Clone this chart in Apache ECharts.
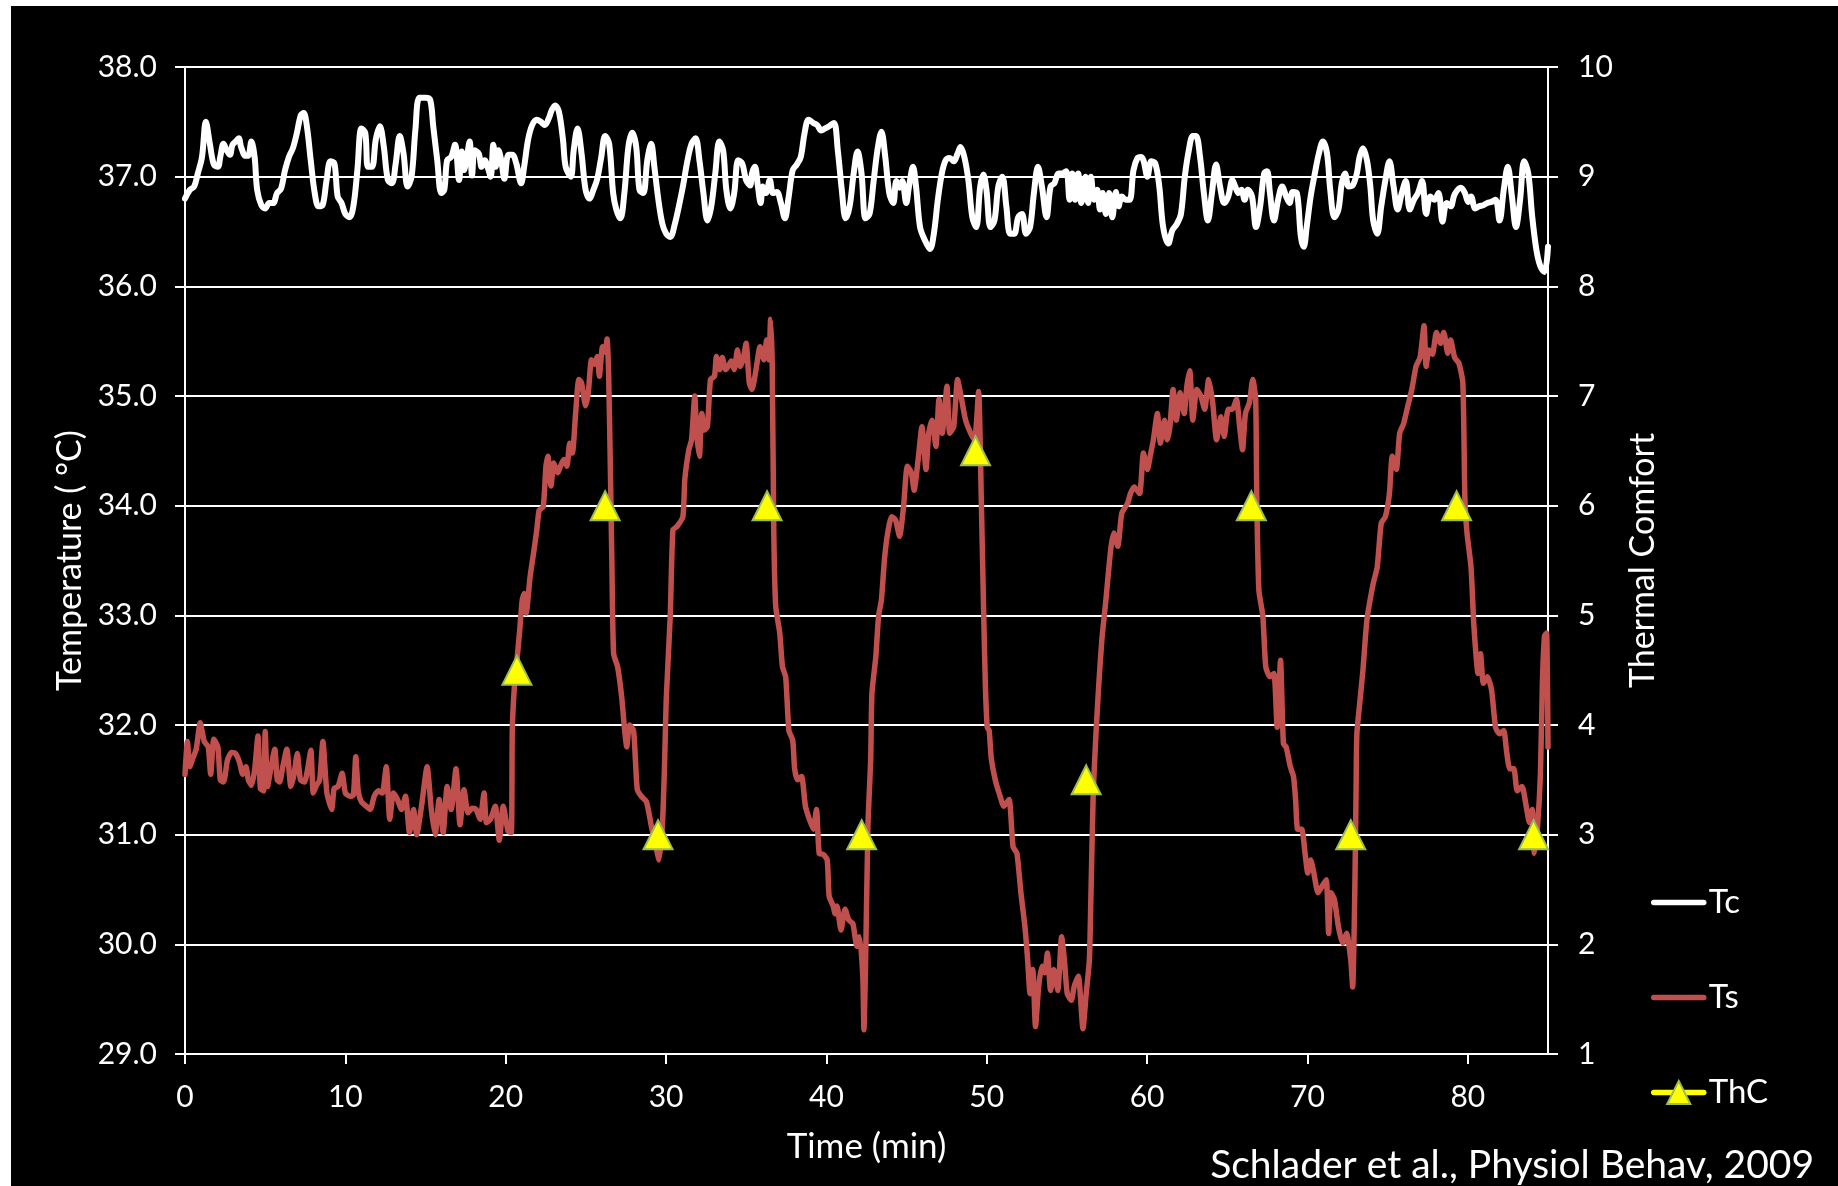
<!DOCTYPE html>
<html>
<head>
<meta charset="utf-8">
<script src="https://cdn.jsdelivr.net/npm/echarts@6/dist/echarts.min.js"></script>
<style>
html,body{margin:0;padding:0;background:#fff;width:1838px;height:1186px;overflow:hidden;}
#chart{position:absolute;left:11px;top:6px;width:1827px;height:1180px;}
</style>
</head>
<body>
<div id="chart"></div>
<script>
// ---- Data ----
const xTickLabels = [0, 10, 20, 30, 40, 50, 60, 70, 80];

// Core temperature (Tc)
const tcTime = [0,0.3,0.57,0.8,1.06,1.3,1.55,1.8,2.05,2.2,2.4,2.6,2.8,2.96,3.16,3.35,3.5,3.77,3.94,4.14,4.34,4.5,4.76,5.0,5.25,5.5,5.74,5.99,6.24,6.48,6.73,6.98,7.22,7.4,7.6,7.84,8.09,8.33,8.58,8.83,9.07,9.32,9.52,9.76,10.0,10.26,10.5,10.75,11.0,11.24,11.41,11.66,11.9,12.15,12.4,12.65,12.9,13.14,13.39,13.63,13.88,14.13,14.37,14.62,15.0,15.29,15.48,15.73,15.98,16.17,16.35,16.6,16.84,17.09,17.26,17.4,17.58,17.75,17.9,18.07,18.32,18.5,18.69,18.89,19.06,19.23,19.38,19.55,19.72,19.92,20.17,20.41,20.66,20.96,21.15,21.4,21.65,21.94,22.19,22.44,22.68,22.88,23.08,23.32,23.57,23.74,24.06,24.24,24.48,24.73,24.98,25.22,25.47,25.71,25.96,26.2,26.45,26.7,26.9,27.15,27.4,27.65,27.89,28.14,28.34,28.58,28.83,29.07,29.27,29.52,29.77,30.01,30.26,30.55,30.8,31.05,31.34,31.59,31.84,32.08,32.33,32.58,32.82,33.07,33.32,33.56,33.76,34.01,34.25,34.5,34.75,34.99,35.24,35.36,35.54,35.73,35.9,36.03,36.23,36.47,36.67,36.91,37.16,37.41,37.65,37.9,38.15,38.4,38.64,38.89,39.18,39.43,39.68,39.92,40.17,40.47,40.71,40.96,41.2,41.45,41.7,41.94,42.19,42.44,42.69,42.93,43.18,43.43,43.67,43.92,44.17,44.36,44.56,44.73,44.98,45.15,45.4,45.59,45.84,46.14,46.46,46.7,46.95,47.2,47.44,47.69,47.94,48.18,48.36,48.6,48.85,49.1,49.34,49.59,49.79,49.98,50.23,50.48,50.72,50.97,51.22,51.46,51.71,51.96,52.2,52.45,52.7,52.94,53.19,53.44,53.73,53.98,54.22,54.47,54.71,54.96,55.16,55.33,55.51,55.7,55.9,56.15,56.32,56.5,56.69,56.89,57.06,57.23,57.43,57.63,57.83,58.05,58.22,58.42,58.66,58.91,59.15,59.4,59.6,59.77,60.02,60.26,60.51,60.76,61.0,61.32,61.57,61.86,62.11,62.35,62.6,62.85,63.05,63.3,63.54,63.79,64.04,64.3,64.55,64.81,65.06,65.32,65.52,65.7,65.88,66.08,66.28,66.54,66.79,67.05,67.3,67.48,67.66,67.91,68.17,68.42,68.67,68.88,69.08,69.34,69.59,69.77,69.95,70.2,70.46,70.71,70.96,71.22,71.42,71.68,71.93,72.14,72.34,72.57,72.82,73.08,73.25,73.46,73.71,73.92,74.1,74.35,74.6,74.86,75.11,75.37,75.62,75.88,76.13,76.38,76.64,76.89,77.15,77.4,77.66,77.91,78.17,78.42,78.68,78.93,79.18,79.57,79.82,80.02,80.2,80.46,80.71,80.97,81.22,81.47,81.73,81.98,82.24,82.49,82.75,83.0,83.26,83.51,83.77,84.02,84.28,84.53,84.78,85.0];
const tcTemp = [36.80,36.88,36.91,37.03,37.18,37.50,37.30,37.11,37.09,37.18,37.30,37.24,37.20,37.29,37.32,37.35,37.27,37.19,37.19,37.32,37.18,36.88,36.74,36.71,36.76,36.76,36.85,36.89,37.06,37.18,37.26,37.40,37.56,37.58,37.46,37.15,36.85,36.73,36.74,36.97,37.14,37.12,36.82,36.76,36.66,36.63,36.73,37.06,37.44,37.40,37.09,37.09,37.34,37.46,37.27,36.97,36.94,37.12,37.37,37.21,36.91,37.00,37.43,37.72,37.72,37.70,37.46,37.15,36.85,36.88,37.15,37.18,37.29,36.97,37.23,37.06,37.18,37.32,37.01,37.24,37.21,37.09,37.15,37.08,37.00,37.29,37.09,37.24,37.15,36.98,37.20,37.20,37.12,36.94,37.09,37.34,37.47,37.52,37.50,37.47,37.53,37.61,37.65,37.59,37.34,37.09,37.00,37.24,37.44,37.21,36.88,36.80,36.88,36.98,37.18,37.37,37.30,36.85,36.70,36.62,36.85,37.27,37.40,37.27,36.88,36.85,37.15,37.30,37.09,36.79,36.57,36.48,36.45,36.57,36.73,36.91,37.15,37.30,37.35,37.15,36.85,36.60,36.73,37.03,37.32,37.24,36.88,36.71,36.85,37.15,37.12,36.97,36.92,37.03,37.09,36.91,36.76,36.91,36.85,36.97,36.85,36.86,36.76,36.62,36.82,37.06,37.11,37.18,37.40,37.52,37.49,37.47,37.42,37.44,37.46,37.49,37.24,36.88,36.62,36.73,37.03,37.23,37.03,36.62,36.66,36.94,37.24,37.41,37.18,36.85,36.76,36.96,36.90,36.96,36.76,36.91,37.09,36.91,36.54,36.42,36.34,36.48,36.79,37.03,37.15,37.17,37.14,37.21,37.27,37.18,36.97,36.63,36.54,36.91,37.02,36.88,36.54,36.60,36.91,37.00,36.73,36.48,36.48,36.63,36.66,36.48,36.54,36.85,37.09,36.91,36.63,36.91,36.94,37.03,37.03,37.05,36.79,37.03,36.79,37.03,36.76,37.00,36.76,37.00,36.79,36.88,36.70,36.85,36.66,36.85,36.63,36.86,36.73,36.82,36.79,36.79,37.06,37.17,37.18,37.15,37.00,37.14,37.12,36.91,36.54,36.39,36.51,36.57,36.66,37.00,37.24,37.37,37.37,37.18,36.85,36.60,36.85,37.11,36.91,36.76,36.82,36.97,36.90,36.85,36.88,36.79,36.88,36.82,36.54,36.73,37.03,37.05,36.85,36.60,36.79,36.91,36.82,36.76,36.86,36.85,36.45,36.36,36.54,36.82,37.03,37.21,37.32,37.21,36.88,36.63,36.70,36.94,37.03,36.91,36.92,37.03,37.18,37.26,37.15,36.91,36.60,36.48,36.73,36.97,37.14,36.91,36.70,36.85,36.96,36.70,36.79,36.85,36.96,36.66,36.82,36.79,36.85,36.59,36.76,36.73,36.84,36.90,36.85,36.77,36.82,36.71,36.73,36.74,36.76,36.77,36.79,36.60,36.88,37.09,36.82,36.54,36.79,37.14,37.03,36.63,36.33,36.18,36.13,36.36];

// Skin temperature (Ts)
const tsTime = [0,0.15,0.3,0.5,0.7,0.95,1.2,1.45,1.6,1.8,2.05,2.2,2.4,2.65,2.9,3.15,3.4,3.6,3.8,3.95,4.15,4.35,4.55,4.7,4.9,5.0,5.15,5.35,5.6,5.75,5.9,6.1,6.35,6.6,6.8,7.0,7.2,7.45,7.65,7.85,8.0,8.2,8.4,8.6,8.85,9.15,9.3,9.55,9.8,10.0,10.3,10.5,10.65,10.8,11.0,11.3,11.55,11.8,12.05,12.3,12.55,12.77,13.0,13.25,13.5,13.75,14.0,14.25,14.45,14.75,15.1,15.36,15.6,15.85,16.1,16.35,16.6,16.9,17.15,17.4,17.65,17.9,18.15,18.4,18.65,18.8,19.05,19.35,19.6,19.85,20.15,20.35,20.41,20.54,20.66,20.86,21.03,21.15,21.28,21.52,21.77,21.94,22.09,22.34,22.51,22.63,22.83,23.0,23.25,23.42,23.62,23.82,23.99,24.16,24.36,24.56,24.73,24.98,25.15,25.35,25.54,25.71,25.84,26.04,26.2,26.32,26.42,26.52,26.62,26.73,26.98,27.23,27.4,27.55,27.72,27.97,28.09,28.21,28.46,28.78,29.08,29.32,29.57,29.77,29.9,30.01,30.26,30.43,30.68,31.05,31.17,31.42,31.59,31.79,31.91,32.08,32.23,32.4,32.58,32.77,33.02,33.14,33.34,33.51,33.71,33.88,34.06,34.25,34.45,34.62,34.8,34.99,35.19,35.36,35.61,35.86,36.1,36.27,36.42,36.52,36.62,36.72,36.84,37.09,37.26,37.46,37.66,37.9,38.02,38.2,38.45,38.69,38.94,39.18,39.38,39.55,39.8,40.05,40.17,40.42,40.54,40.66,40.91,41.16,41.4,41.65,41.9,42.07,42.27,42.34,42.44,42.59,42.76,42.84,43.08,43.25,43.43,43.62,43.82,44.07,44.31,44.56,44.81,45.05,45.3,45.47,45.72,45.96,46.21,46.38,46.58,46.83,47.02,47.22,47.52,47.69,47.94,48.18,48.43,48.68,49.0,49.24,49.49,49.66,49.79,49.91,50.03,50.15,50.28,50.53,50.77,51.07,51.39,51.64,51.88,52.13,52.38,52.55,52.7,52.87,53.04,53.24,53.44,53.61,53.78,53.98,54.18,54.43,54.67,54.84,55.02,55.27,55.46,55.71,56.0,56.2,56.4,56.5,56.64,56.81,56.99,57.18,57.43,57.73,57.92,58.17,58.42,58.78,58.96,59.2,59.53,59.77,60.02,60.19,60.39,60.64,60.83,61.08,61.25,61.42,61.62,61.82,62.06,62.31,62.48,62.66,62.85,63.1,63.35,63.59,63.84,64.09,64.33,64.6,64.81,65.06,65.32,65.57,65.77,65.95,66.13,66.38,66.59,66.77,66.84,66.97,67.22,67.4,67.66,67.91,68.11,68.32,68.5,68.67,68.93,69.13,69.26,69.39,69.64,69.85,70.02,70.2,70.4,70.66,70.91,71.17,71.32,71.47,71.68,71.93,72.19,72.44,72.7,72.82,72.95,73.03,73.08,73.26,73.46,73.71,74.1,74.35,74.6,74.86,75.11,75.29,75.54,75.75,76.0,76.26,76.51,76.77,77.02,77.27,77.4,77.58,77.79,78.04,78.29,78.5,78.75,78.93,79.18,79.44,79.69,79.82,79.95,80.2,80.38,80.64,80.79,80.97,81.22,81.48,81.73,81.98,82.24,82.41,82.62,82.87,83.08,83.38,83.64,83.84,84.02,84.15,84.35,84.53,84.65,84.78,84.91,85.0];
const tsTemp = [31.55,31.85,31.62,31.70,31.78,32.02,31.85,31.80,31.55,31.87,31.80,31.50,31.48,31.68,31.75,31.74,31.66,31.55,31.62,31.50,31.45,31.60,31.90,31.42,31.40,31.94,31.44,31.60,31.78,31.50,31.48,31.62,31.78,31.44,31.55,31.74,31.50,31.48,31.60,31.77,31.38,31.45,31.50,31.85,31.38,31.23,31.42,31.44,31.56,31.38,31.35,31.36,31.71,31.40,31.30,31.26,31.23,31.35,31.40,31.38,31.62,31.14,31.38,31.32,31.23,31.35,31.02,31.23,31.00,31.26,31.62,31.23,31.00,31.32,31.02,31.44,31.23,31.60,31.09,31.41,31.20,31.24,31.23,31.14,31.38,31.11,31.14,31.26,30.95,31.26,31.03,31.02,31.95,32.35,32.53,32.84,33.14,33.20,33.02,33.35,33.60,33.78,33.96,33.99,34.36,34.45,34.18,34.39,34.30,34.36,34.42,34.36,34.57,34.48,34.84,35.15,35.12,34.91,35.03,35.33,35.29,35.36,35.18,35.45,35.40,35.52,35.20,34.40,33.50,32.65,32.53,32.26,31.98,31.80,32.00,31.95,31.68,31.41,31.35,31.30,31.08,30.92,30.77,31.08,31.60,32.23,32.99,33.78,33.81,33.90,34.24,34.51,34.60,35.00,34.66,34.45,34.84,34.69,34.72,35.15,35.18,35.36,35.24,35.35,35.24,35.27,35.32,35.24,35.42,35.27,35.33,35.48,35.12,35.06,35.24,35.45,35.33,35.51,35.33,35.70,35.30,33.75,33.08,32.84,32.53,32.44,31.95,31.86,31.60,31.50,31.53,31.26,31.14,31.05,31.23,30.83,30.82,30.77,30.44,30.35,30.28,30.35,30.13,30.32,30.22,30.19,29.98,30.07,29.71,29.22,29.80,31.08,31.68,32.29,32.62,32.99,33.14,33.51,33.75,33.90,33.87,33.72,33.99,34.36,34.30,34.14,34.42,34.72,34.33,34.66,34.78,34.54,34.97,34.66,35.09,34.66,34.72,35.15,34.97,34.78,34.66,34.60,35.04,34.05,33.14,32.38,31.98,31.95,31.70,31.50,31.38,31.26,31.32,30.89,30.83,30.47,30.16,29.86,29.55,29.77,29.25,29.62,29.80,29.74,29.92,29.58,29.77,29.58,30.07,29.86,29.55,29.49,29.62,29.71,29.23,29.55,29.86,30.47,31.38,31.92,32.38,32.78,33.14,33.60,33.75,33.63,33.93,34.02,34.11,34.17,34.11,34.48,34.33,34.45,34.60,34.84,34.57,34.78,34.60,34.72,35.06,34.78,35.03,34.84,35.09,35.23,34.78,35.06,35.00,34.88,35.15,34.94,34.60,34.81,34.63,34.88,34.88,34.97,34.72,34.51,34.84,34.94,35.15,34.97,34.05,33.23,32.99,32.53,32.44,32.47,31.98,32.59,31.83,31.80,31.62,31.53,31.32,31.05,31.05,30.83,30.65,30.77,30.65,30.47,30.53,30.59,30.10,30.47,30.41,30.16,30.01,30.10,29.86,29.61,30.47,31.38,31.92,32.20,32.50,32.96,33.29,33.44,33.84,33.90,34.11,34.45,34.33,34.66,34.75,34.91,35.06,35.27,35.35,35.64,35.27,35.42,35.38,35.58,35.48,35.58,35.39,35.51,35.35,35.30,35.12,34.05,33.75,33.44,32.90,32.47,32.65,32.38,32.44,32.32,31.98,31.92,31.95,31.77,31.60,31.60,31.40,31.44,31.26,31.11,31.23,30.83,31.08,31.56,32.38,32.81,32.84,31.80];

// Thermal comfort ratings (ThC, right axis)
const thcTime = [20.7, 26.2, 29.5, 36.3, 42.2, 49.3, 56.2, 66.5, 72.7, 79.3, 84.1];
const thcScore = [4.5, 6, 3, 6, 3, 6.5, 3.5, 6, 3, 6, 3];

const citation = 'Schlader et al., Physiol Behav, 2009';

// ---- Chart ----
const FONT = 'Lato, "Open Sans", sans-serif';
const pair = (xs, ys) => xs.map((x, i) => [x, ys[i]]);

const chart = echarts.init(document.getElementById('chart'), null, {renderer: 'canvas'});
chart.setOption({
  backgroundColor: '#000000',
  animation: false,
  textStyle: {fontFamily: FONT, color: '#ffffff'},
  grid: {left: 174, top: 61, right: 290, bottom: 132, containLabel: false},
  xAxis: {
    type: 'value', min: 0, max: 85, interval: 10,
    name: 'Time (min)', nameLocation: 'middle', nameGap: 75,
    nameTextStyle: {color: '#fff', fontSize: 35, fontFamily: FONT},
    axisLine: {show: true, lineStyle: {color: '#fff', width: 2}},
    axisTick: {show: true, inside: false, length: 10, lineStyle: {color: '#fff', width: 2}, customValues: xTickLabels},
    axisLabel: {color: '#fff', fontSize: 30, fontFamily: FONT, margin: 28, customValues: xTickLabels},
    splitLine: {show: false}
  },
  yAxis: [
    {
      type: 'value', min: 29, max: 38, interval: 1, position: 'left',
      name: 'Temperature ( °C)', nameLocation: 'middle', nameGap: 98, nameRotate: 90,
      nameTextStyle: {color: '#fff', fontSize: 34, fontFamily: FONT},
      axisLine: {show: true, lineStyle: {color: '#fff', width: 2}},
      axisTick: {show: true, inside: false, length: 10, lineStyle: {color: '#fff', width: 2}},
      axisLabel: {color: '#fff', fontSize: 30, fontFamily: FONT, margin: 28, formatter: v => v.toFixed(1)},
      splitLine: {show: true, lineStyle: {color: '#ffffff', width: 2}}
    },
    {
      type: 'value', min: 1, max: 10, interval: 1, position: 'right',
      name: 'Thermal Comfort', nameLocation: 'middle', nameGap: 78, nameRotate: 90,
      nameTextStyle: {color: '#fff', fontSize: 34, fontFamily: FONT},
      axisLine: {show: true, lineStyle: {color: '#fff', width: 2}},
      axisTick: {show: true, inside: false, length: 10, lineStyle: {color: '#fff', width: 2}},
      axisLabel: {color: '#fff', fontSize: 30, fontFamily: FONT, margin: 30},
      splitLine: {show: false}
    }
  ],
  legend: {
    orient: 'vertical', left: 1635, top: 875,
    itemWidth: 50, itemHeight: 29, itemGap: 62,
    textStyle: {color: '#fff', fontSize: 33, fontFamily: FONT, lineHeight: 29},
    data: [
      {name: 'Tc', itemStyle: {opacity: 0}, lineStyle: {color: '#ffffff', width: 5.5, opacity: 1, cap: 'round'}},
      {name: 'Ts', itemStyle: {opacity: 0}, lineStyle: {color: '#C0504D', width: 5.5, opacity: 1, cap: 'round'}},
      {name: 'ThC', lineStyle: {color: '#FFFF00', width: 5.5, opacity: 1, cap: 'round'}}
    ],
    selectedMode: false
  },
  series: [
    {
      name: 'Tc', type: 'line', yAxisIndex: 0, symbol: 'none', smooth: 0.35,
      lineStyle: {color: '#ffffff', width: 6, cap: 'round', join: 'round'},
      itemStyle: {color: '#ffffff'},
      data: pair(tcTime, tcTemp)
    },
    {
      name: 'Ts', type: 'line', yAxisIndex: 0, symbol: 'none', smooth: 0.2,
      lineStyle: {color: '#C0504D', width: 5.5, cap: 'round', join: 'round'},
      itemStyle: {color: '#C0504D'},
      data: pair(tsTime, tsTemp)
    },
    {
      name: 'ThC', type: 'line', yAxisIndex: 1, symbol: 'triangle', symbolSize: 29,
      showAllSymbol: true,
      lineStyle: {color: '#FFFF00', width: 5.5, opacity: 0},
      itemStyle: {color: '#FFFF00', borderColor: '#9BBB59', borderWidth: 2},
      z: 5,
      data: pair(thcTime, thcScore)
    }
  ],
  graphic: [
    {
      type: 'text', right: 24, top: 1140,
      style: {text: citation, fill: '#fff', fontSize: 39, fontFamily: FONT}
    }
  ]
});
</script>
</body>
</html>
